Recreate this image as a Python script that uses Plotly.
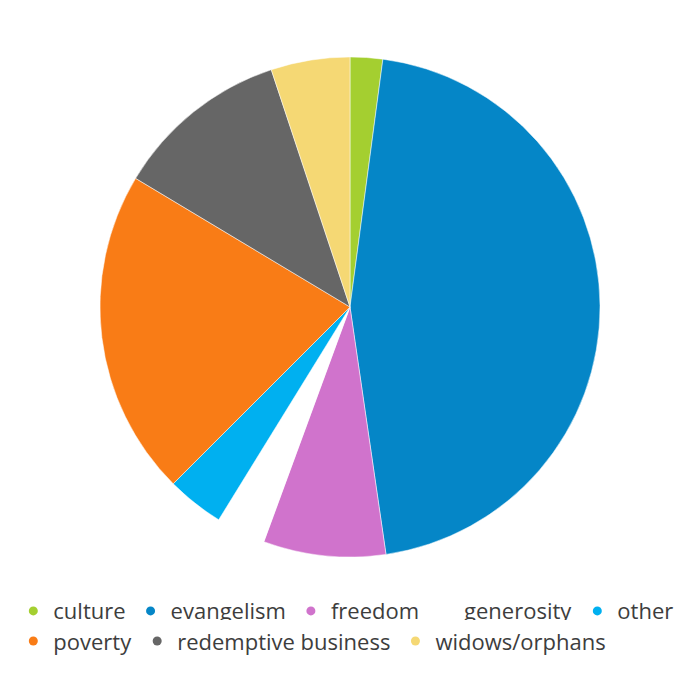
import plotly.graph_objects as go

# Data
labels = ["culture", "evangelism", "freedom", "generosity", "other",
          "poverty", "redemptive business", "widows/orphans"]
values = [2.1, 45.6, 7.9, 3.2, 3.7, 21.1, 11.3, 5.1]
colors = ["#a4cf30", "#0586c7", "#d073cc", "#ffffff", "#00b0f0",
          "#f97c16", "#666666", "#f5d874"]
# which legend row each entry sits in
legend_rows = ["legend"] * 5 + ["legend2"] * 3

fig = go.Figure()

fig.add_trace(go.Pie(
    labels=labels,
    values=values,
    sort=False,
    direction="clockwise",
    rotation=0,
    marker=dict(colors=colors, line=dict(color="#ffffff", width=0.5)),
    textinfo="none",
    hoverinfo="label+percent",
    showlegend=False,
    domain=dict(x=[0, 1], y=[0.2043, 0.9186]),
))

# round legend markers
for lab, col, lg in zip(labels, colors, legend_rows):
    fig.add_trace(go.Scatter(
        x=[None], y=[None], mode="markers", name=lab, legend=lg,
        marker=dict(color=col, size=9, symbol="circle"),
    ))

leg_font = dict(family="Open Sans", size=22, color="#3d3d3d")

fig.update_layout(
    width=700, height=700,
    margin=dict(l=0, r=0, t=0, b=0),
    paper_bgcolor="white",
    plot_bgcolor="white",
    xaxis=dict(visible=False),
    yaxis=dict(visible=False),
    font=dict(family="Open Sans", color="#3d3d3d"),
    legend=dict(
        orientation="h",
        x=0.494, xanchor="center",
        y=0.127, yanchor="middle",
        font=leg_font,
        itemwidth=30,
    ),
    legend2=dict(
        orientation="h",
        x=0.019, xanchor="left",
        y=0.084, yanchor="middle",
        font=leg_font,
        itemwidth=30,
    ),
)

fig.write_html("out.html", config={"displayModeBar": False},
               post_script="document.body.style.margin='0';")
